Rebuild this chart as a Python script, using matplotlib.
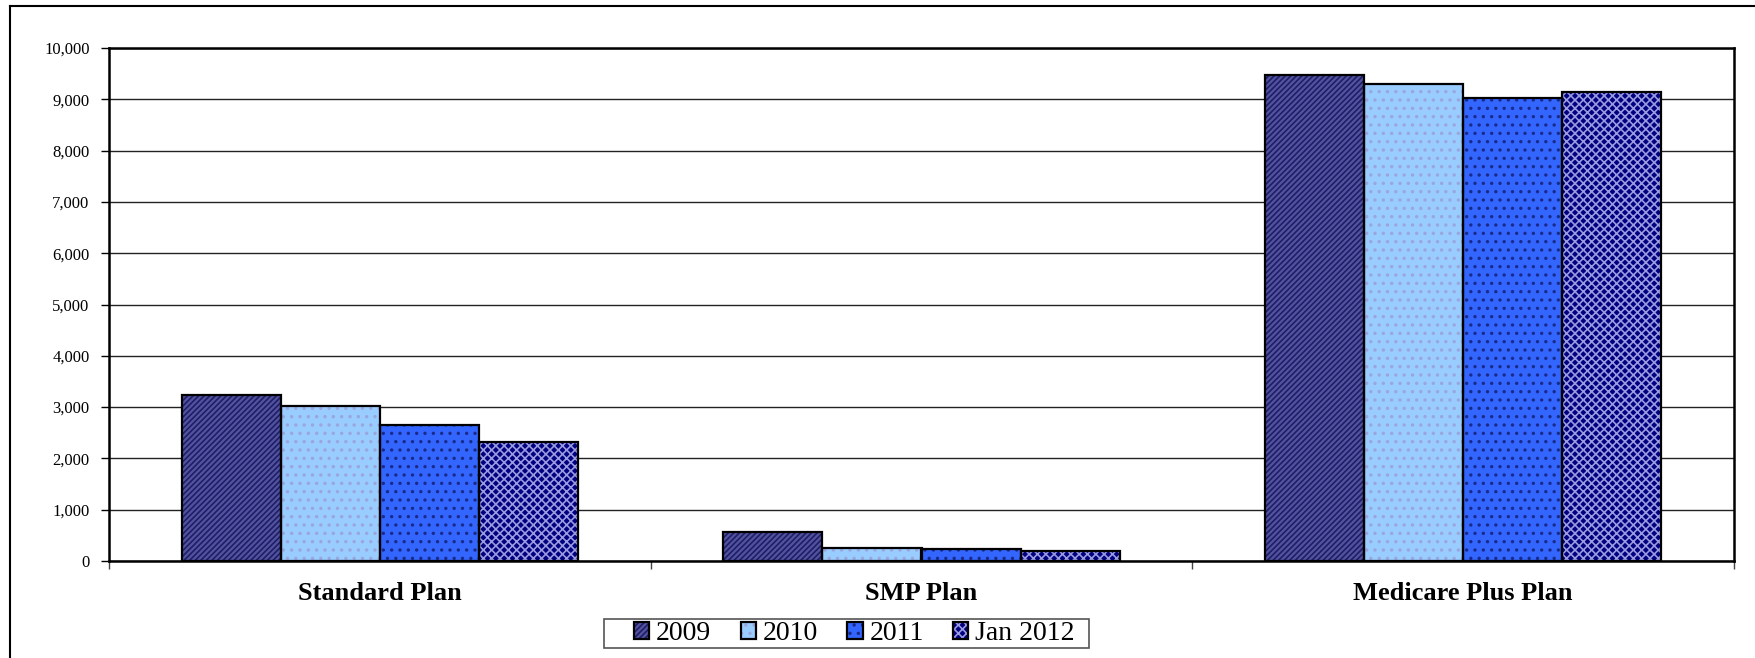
import numpy as np
import matplotlib
matplotlib.use('Agg')
import matplotlib.pyplot as plt
from matplotlib.lines import Line2D
from matplotlib.patches import Rectangle
from matplotlib.ticker import FuncFormatter, MultipleLocator

plt.rcParams['font.family'] = ['Liberation Serif', 'DejaVu Serif']
plt.rcParams['hatch.linewidth'] = 1.2

plans = ['Standard Plan', 'SMP Plan', 'Medicare Plus Plan']
years = ['2009', '2010', '2011', 'Jan 2012']

v2009 = [3230, 560, 9470]
v2010 = [3020, 250, 9290]
v2011 = [2660, 230, 9030]
vjan2012 = [2310, 190, 9150]

series = [v2009, v2010, v2011, vjan2012]
faces = ['#52529f', '#99ccff', '#3366ff', '#000080']
hatch_cols = ['#1e1e66', '#9aa6dc', '#1a2a8a', '#9a9ae0']
hatches = ['//////', '..', '..', 'xxxx']

W, H = 1756, 658
fig = plt.figure(figsize=(W / 100, H / 100), dpi=100)
ax = fig.add_axes([109/W, 1 - 561/H, (1734-109)/W, (561-48)/H])

x = np.arange(len(plans))
w = 0.183
handles = []
for i, vals in enumerate(series):
    pos = x + (i - 1.5) * w
    b1 = ax.bar(pos, vals, w, color=faces[i], edgecolor=hatch_cols[i],
                hatch=hatches[i], linewidth=0, zorder=3)
    b2 = ax.bar(pos, vals, w, fill=False, edgecolor='black', linewidth=1.6, zorder=4)
    handles.append((b1[0], b2[0]))

ax.set_xlim(-0.5, 2.5)
ax.set_ylim(0, 10000)
ax.yaxis.set_major_locator(MultipleLocator(1000))
ax.yaxis.set_major_formatter(FuncFormatter(lambda v, p: f'{int(v):,}'))
ax.grid(axis='y', color='#222222', linewidth=1.0, zorder=0)

ax.set_xticks([-0.5, 0.5, 1.5, 2.5], minor=False)
ax.set_xticklabels([])
ax.set_xticks(x, minor=True)
ax.set_xticklabels(plans, minor=True, fontsize=19, fontweight='bold')
ax.tick_params(axis='x', which='minor', length=0, pad=15)
ax.tick_params(axis='x', which='major', length=6, width=1, color='#444444')
ax.tick_params(axis='y', length=6, width=1, pad=8, labelsize=12)

for s in ax.spines.values():
    s.set_linewidth(1.8)
    s.set_color('black')

lbl0 = ax.get_yticklabels()[0]
lbl0.set_fontfamily('DejaVu Sans')
lbl0.set_color('#555555')

# legend box drawn separately so the text can fill it tightly
fig.add_artist(Rectangle((604/W, 1 - 648/H), (1089-604)/W, (648-619)/H,
                         transform=fig.transFigure, fill=False,
                         edgecolor='#555555', linewidth=1.2))
leg = fig.legend(handles, years, loc='center left', bbox_to_anchor=(634/W, 1 - 634/H),
                 ncol=4, fontsize=20, frameon=False, borderpad=0, borderaxespad=0,
                 handlelength=0.55, handleheight=0.55, handletextpad=0.25,
                 columnspacing=1.05)

# outer chart border (only top and left fall inside the image)
fig.add_artist(Line2D([10/W, 10/W], [0, 1 - 6/H], color='black', linewidth=1.5))
fig.add_artist(Line2D([10/W, 1], [1 - 6/H, 1 - 6/H], color='black', linewidth=1.5))

fig.savefig('out.png', dpi=100)
